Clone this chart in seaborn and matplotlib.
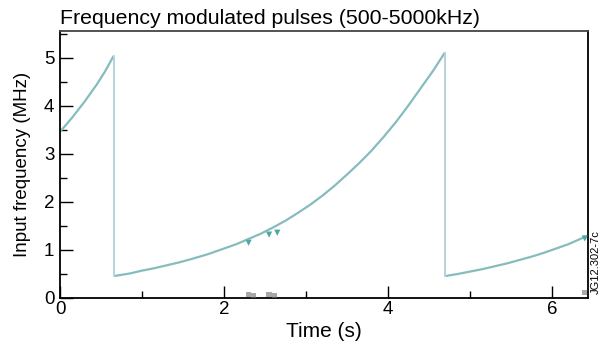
import numpy as np
import pandas as pd
import seaborn as sns
import matplotlib
matplotlib.use("Agg")
import matplotlib.pyplot as plt
from matplotlib.ticker import MultipleLocator

# ---- data ----
# ramp 1 (partial, starts before t=0)
t_ramp1 = [0.0, 0.15, 0.3, 0.45, 0.55, 0.65]
f_ramp1 = [3.46, 3.76, 4.09, 4.45, 4.72, 5.03]
# ramp 2 (full)
t_ramp2 = [0.67, 0.85, 1.0, 1.15, 1.3, 1.45, 1.6, 1.8, 2.0, 2.15, 2.3, 2.45, 2.6,
           2.75, 2.9, 3.05, 3.2, 3.35, 3.5, 3.65, 3.8, 3.95, 4.1, 4.25, 4.4,
           4.55, 4.69]
f_ramp2 = [0.46, 0.51, 0.57, 0.62, 0.68, 0.74, 0.81, 0.91, 1.03, 1.12, 1.23,
           1.34, 1.47, 1.61, 1.77, 1.94, 2.13, 2.34, 2.57, 2.81, 3.07, 3.36,
           3.67, 4.01, 4.37, 4.73, 5.10]
# ramp 3 (partial, runs past the axis)
t_ramp3 = [4.71, 4.85, 5.0, 5.15, 5.3, 5.45, 5.6, 5.75, 5.9, 6.05, 6.2, 6.32, 6.44]
f_ramp3 = [0.46, 0.50, 0.55, 0.60, 0.66, 0.72, 0.79, 0.86, 0.94, 1.03, 1.12,
           1.21, 1.30]
# resets (vertical drops)
t_drop1 = [0.66, 0.66]
f_drop1 = [5.03, 0.46]
t_drop2 = [4.70, 4.70]
f_drop2 = [5.10, 0.46]
# small glitches on the trace
t_glitch = [2.30, 2.55, 2.65, 6.40]
f_glitch = [1.15, 1.32, 1.36, 1.24]
# noise smudges near the baseline
t_noise = [2.30, 2.36, 2.55, 2.62, 6.40]
f_noise = [0.08, 0.05, 0.07, 0.05, 0.12]

x_ticks = [0, 2, 4, 6]
y_ticks = [0, 1, 2, 3, 4, 5]

sns.set_theme(style="white")
plt.rcParams['font.family'] = ['Liberation Sans', 'DejaVu Sans']

fig = plt.figure(figsize=(6.01, 3.54), dpi=100)
ax = fig.add_axes([60/601, 1-298/354, (588-60)/601, (298-31)/354])

curve_col = "#86bcbc"
drop_col = "#b3d3da"

for tt, ff in [(t_ramp1, f_ramp1), (t_ramp2, f_ramp2), (t_ramp3, f_ramp3)]:
    df = pd.DataFrame({"t": tt, "f": ff})
    sns.lineplot(data=df, x="t", y="f", ax=ax, color=curve_col, lw=1.6,
                 sort=False, estimator=None)
for tt, ff in [(t_drop1, f_drop1), (t_drop2, f_drop2)]:
    df = pd.DataFrame({"t": tt, "f": ff})
    sns.lineplot(data=df, x="t", y="f", ax=ax, color=drop_col, lw=1.4,
                 sort=False, estimator=None)

sns.scatterplot(x=t_glitch, y=f_glitch, ax=ax, marker="v", s=20,
                color="#4fa9a2", edgecolor="none", zorder=3)
sns.scatterplot(x=t_noise, y=f_noise, ax=ax, marker="s", s=14,
                color="#6e6e6e", edgecolor="none", alpha=0.6, zorder=3)

ax.set_xlim(0, 6.44)
ax.set_ylim(0, 5.56)
ax.set_xticks(x_ticks)
ax.set_yticks(y_ticks)
ax.xaxis.set_minor_locator(MultipleLocator(1))
ax.yaxis.set_minor_locator(MultipleLocator(0.5))
ax.tick_params(axis="both", which="major", direction="in", length=9, width=1.0,
               color="black", labelsize=13.5, labelcolor="black")
ax.tick_params(axis="both", which="minor", direction="in", length=5, width=1.0,
               color="black")
ax.tick_params(axis="x", which="both", bottom=True, top=False, pad=2)
ax.tick_params(axis="y", which="both", left=True, right=False, pad=4)

for side in ["left", "bottom", "right", "top"]:
    ax.spines[side].set_visible(True)
    ax.spines[side].set_color("black")
    ax.spines[side].set_linewidth(1.3)
ax.spines["top"].set_color("#444444")

ax.set_xlabel("Time (s)", fontsize=15, color="black", labelpad=3)
ax.set_ylabel("Input frequency (MHz)", fontsize=13.5, color="black", labelpad=9)
fig.text(60/601, 1-19/354, "Frequency modulated pulses (500-5000kHz)",
         fontsize=15.3, ha="left", va="center", color="black")
fig.text(596/601, 1-262/354, "JG12.302-7c", fontsize=8, rotation=90,
         ha="center", va="center", color="black")

fig.savefig("out.png", dpi=100)
